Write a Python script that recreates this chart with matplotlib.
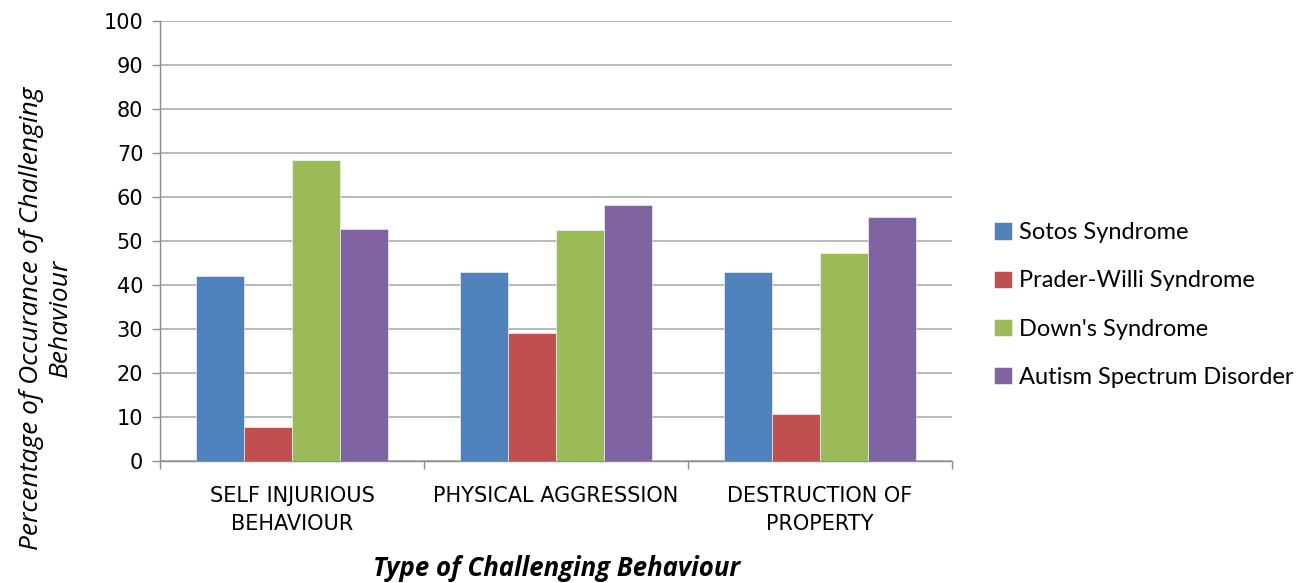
import matplotlib
matplotlib.use("Agg")
import matplotlib.pyplot as plt
import numpy as np

# Data
categories = ["SELF INJURIOUS\nBEHAVIOUR", "PHYSICAL AGGRESSION", "DESTRUCTION OF\nPROPERTY"]
series_names = ["Sotos Syndrome", "Prader-Willi Syndrome", "Down's Syndrome", "Autism Spectrum Disorder"]
sotos = [42.0, 43.0, 43.0]
prader_willi = [7.7, 29.0, 10.6]
downs = [68.4, 52.5, 47.3]
autism = [52.8, 58.2, 55.4]
colors = ["#4F81BD", "#C0504D", "#9BBB59", "#8064A2"]
y_ticks = list(range(0, 101, 10))

fig = plt.figure(figsize=(13.16, 5.83), dpi=100)
ax = fig.add_axes([160 / 1316, 1 - 461 / 583, 792 / 1316, 440 / 583])

x = np.arange(len(categories))
width = 0.182
all_series = [sotos, prader_willi, downs, autism]
for i, (vals, name, c) in enumerate(zip(all_series, series_names, colors)):
    ax.bar(x + (i - 1.5) * width, vals, width, color=c, label=name,
           edgecolor="white", linewidth=0.4, zorder=3)

ax.set_xlim(-0.5, 2.5)
ax.set_ylim(0, 100)
ax.set_yticks(y_ticks)
ax.yaxis.grid(True, color="#a6a6a6", linewidth=1.1, zorder=0)
ax.tick_params(axis="y", labelsize=15, length=6, width=1, color="#8c8c8c", pad=6)

# category boundaries carry the tick marks, labels sit in the middle
ax.set_xticks([-0.5, 0.5, 1.5, 2.5])
ax.set_xticklabels([])
ax.set_xticks(x, minor=True)
ax.set_xticklabels(categories, minor=True, fontsize=15, linespacing=1.5)
ax.tick_params(axis="x", which="major", length=6, width=1, color="#8c8c8c")
ax.tick_params(axis="x", which="minor", length=0, pad=18)

for s in ["top", "right"]:
    ax.spines[s].set_visible(False)
for s in ["left", "bottom"]:
    ax.spines[s].set_color("#8c8c8c")
    ax.spines[s].set_linewidth(1)

fig.text(557 / 1316, 1 - 568 / 583, "Type of Challenging Behaviour", ha="center", va="center",
         fontsize=18.5, fontweight="bold", fontstyle="italic", family="Open Sans")
fig.text(46 / 1316, 1 - 318 / 583, "Percentage of Occurance of Challenging\nBehaviour",
         ha="center", va="center", rotation=90, fontsize=19, fontstyle="italic",
         family="Open Sans", linespacing=1.25)

ax.legend(loc="center left", bbox_to_anchor=(973 / 1316, 1 - 305 / 583),
          bbox_transform=fig.transFigure, frameon=False,
          prop={"family": "Lato", "size": 17}, handlelength=0.75, handleheight=0.75,
          handletextpad=0.3, labelspacing=1.15)

fig.savefig("out.png", dpi=100)
